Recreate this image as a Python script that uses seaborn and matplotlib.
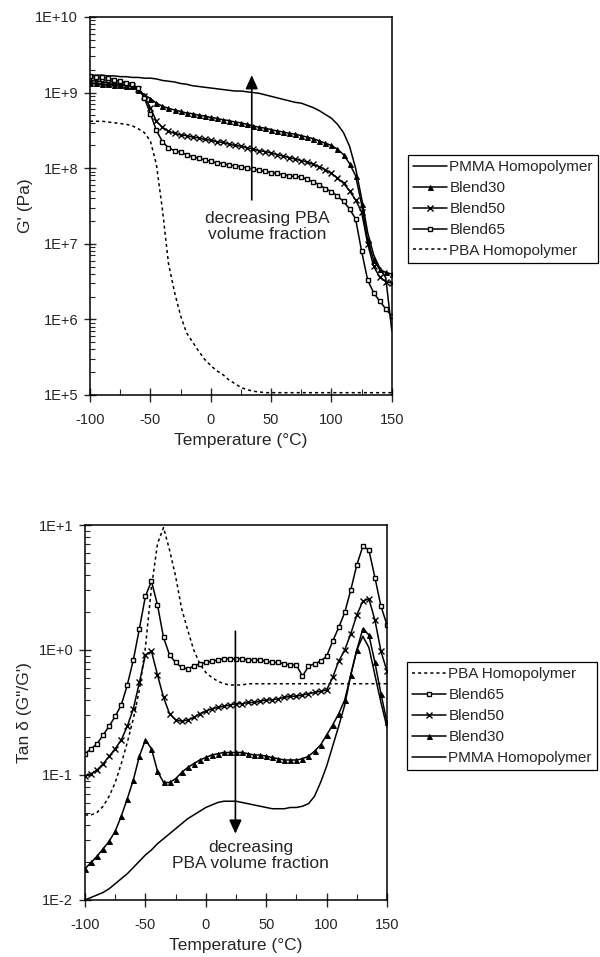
import numpy as np
import pandas as pd
import seaborn as sns
import matplotlib.pyplot as plt
from matplotlib.ticker import LogLocator, NullFormatter, MultipleLocator

sns.set_style("ticks")
plt.rcParams['font.family'] = ['Liberation Sans', 'DejaVu Sans']
plt.rcParams['axes.unicode_minus'] = False

# temperature grid (deg C), read every 5 degrees
temps = list(range(-100, 155, 5))

# storage modulus G' (log10 Pa)
pmma_g = [9.23, 9.23, 9.23, 9.22, 9.22, 9.21, 9.21, 9.20, 9.20, 9.19,
          9.19, 9.18, 9.16, 9.15, 9.14, 9.12, 9.11, 9.09, 9.08, 9.07,
          9.06, 9.05, 9.04, 9.03, 9.02, 9.02, 9.01, 9.00, 8.99, 8.97,
          8.95, 8.93, 8.91, 8.89, 8.87, 8.86, 8.83, 8.80, 8.76, 8.71,
          8.66, 8.58, 8.47, 8.29, 8.00, 7.60, 7.15, 6.85, 6.68, 6.55,
          5.85]
blend30_g = [9.12, 9.12, 9.11, 9.11, 9.10, 9.10, 9.09, 9.08, 9.04, 8.97,
             8.92, 8.86, 8.82, 8.79, 8.77, 8.75, 8.73, 8.72, 8.70, 8.69,
             8.67, 8.66, 8.64, 8.63, 8.61, 8.60, 8.58, 8.56, 8.54, 8.53,
             8.51, 8.49, 8.48, 8.46, 8.45, 8.43, 8.41, 8.39, 8.36, 8.33,
             8.30, 8.25, 8.18, 8.06, 7.90, 7.52, 7.05, 6.78, 6.66, 6.62,
             6.60]
blend50_g = [9.16, 9.15, 9.14, 9.13, 9.12, 9.11, 9.10, 9.09, 9.05, 8.95,
             8.80, 8.62, 8.54, 8.49, 8.46, 8.44, 8.43, 8.41, 8.40, 8.38,
             8.37, 8.35, 8.34, 8.32, 8.30, 8.29, 8.27, 8.25, 8.23, 8.22,
             8.20, 8.18, 8.16, 8.14, 8.12, 8.10, 8.08, 8.05, 8.02, 7.98,
             7.93, 7.87, 7.80, 7.70, 7.58, 7.42, 7.00, 6.70, 6.56, 6.50,
             6.48]
blend65_g = [9.22, 9.21, 9.20, 9.19, 9.17, 9.15, 9.13, 9.11, 9.06, 8.93,
             8.72, 8.50, 8.35, 8.27, 8.23, 8.21, 8.18, 8.15, 8.13, 8.11,
             8.09, 8.07, 8.06, 8.04, 8.03, 8.02, 8.00, 7.99, 7.97, 7.96,
             7.94, 7.93, 7.91, 7.90, 7.89, 7.88, 7.85, 7.82, 7.78, 7.73,
             7.69, 7.63, 7.56, 7.46, 7.33, 6.90, 6.52, 6.35, 6.24, 6.14,
             6.04]
pba_g = [8.62, 8.62, 8.62, 8.61, 8.60, 8.59, 8.58, 8.56, 8.52, 8.47,
         8.36, 8.05, 7.45, 6.74, 6.36, 6.05, 5.82, 5.70, 5.58, 5.47,
         5.39, 5.32, 5.27, 5.20, 5.15, 5.10, 5.07, 5.05, 5.04, 5.03,
         5.03, 5.03, 5.03, 5.03, 5.03, 5.03, 5.03, 5.03, 5.03, 5.03,
         5.03, 5.03, 5.03, 5.03, 5.03, 5.03, 5.03, 5.03, 5.03, 5.03,
         5.03]

# tan delta (log10)
pba_tan = [-1.32, -1.32, -1.30, -1.25, -1.17, -1.06, -0.91, -0.74, -0.55, -0.32,
           0.02, 0.50, 0.85, 0.98, 0.80, 0.59, 0.33, 0.16, 0.00, -0.11,
           -0.18, -0.22, -0.25, -0.27, -0.28, -0.28, -0.28, -0.27, -0.27, -0.27,
           -0.27, -0.27, -0.27, -0.27, -0.27, -0.27, -0.27, -0.27, -0.27, -0.27,
           -0.27, -0.27, -0.27, -0.27, -0.27, -0.27, -0.27, -0.27, -0.27, -0.27,
           -0.27]
blend65_tan = [-0.83, -0.79, -0.75, -0.68, -0.61, -0.53, -0.44, -0.28, -0.08, 0.17,
               0.43, 0.55, 0.36, 0.10, -0.04, -0.10, -0.14, -0.15, -0.13, -0.11,
               -0.10, -0.09, -0.08, -0.07, -0.07, -0.07, -0.07, -0.08, -0.08, -0.08,
               -0.09, -0.10, -0.10, -0.11, -0.12, -0.12, -0.21, -0.13, -0.11, -0.09,
               -0.05, 0.07, 0.18, 0.30, 0.48, 0.68, 0.83, 0.80, 0.58, 0.35,
               0.20]
blend50_tan = [-1.01, -0.99, -0.96, -0.91, -0.85, -0.79, -0.72, -0.61, -0.47, -0.26,
               -0.04, -0.01, -0.20, -0.38, -0.51, -0.56, -0.57, -0.56, -0.54, -0.51,
               -0.49, -0.47, -0.46, -0.45, -0.44, -0.43, -0.43, -0.42, -0.42, -0.41,
               -0.40, -0.40, -0.39, -0.38, -0.37, -0.37, -0.36, -0.35, -0.34, -0.33,
               -0.32, -0.22, -0.09, 0.00, 0.13, 0.28, 0.39, 0.41, 0.24, -0.01,
               -0.17]
blend30_tan = [-1.75, -1.70, -1.65, -1.59, -1.53, -1.45, -1.33, -1.19, -1.04, -0.85,
               -0.72, -0.79, -0.97, -1.06, -1.06, -1.03, -0.98, -0.94, -0.91, -0.88,
               -0.86, -0.84, -0.83, -0.82, -0.82, -0.82, -0.82, -0.83, -0.84, -0.84,
               -0.85, -0.86, -0.87, -0.88, -0.88, -0.88, -0.87, -0.85, -0.81, -0.76,
               -0.68, -0.60, -0.51, -0.40, -0.20, 0.00, 0.17, 0.12, -0.10, -0.35,
               -0.58]
pmma_tan = [-2.00, -1.98, -1.96, -1.94, -1.91, -1.87, -1.83, -1.79, -1.74, -1.69,
            -1.64, -1.60, -1.55, -1.51, -1.47, -1.43, -1.39, -1.35, -1.32, -1.29,
            -1.26, -1.24, -1.22, -1.21, -1.21, -1.21, -1.22, -1.23, -1.24, -1.25,
            -1.26, -1.27, -1.27, -1.27, -1.26, -1.26, -1.25, -1.23, -1.17, -1.06,
            -0.93, -0.77, -0.61, -0.44, -0.20, 0.00, 0.11, 0.02, -0.20, -0.42,
            -0.62]

FS = 10.5

styles = {
    "PMMA Homopolymer": dict(color="black", lw=1.1),
    "Blend30": dict(color="black", lw=1.1, marker="^", ms=3.6, mfc="black", mec="black", mew=0.7),
    "Blend50": dict(color="black", lw=1.1, marker="x", ms=3.8, mec="black", mew=1.0),
    "Blend65": dict(color="black", lw=1.1, marker="s", ms=3.4, mfc="white", mec="black", mew=1.0),
    "PBA Homopolymer": dict(color="black", lw=1.1, ls=(0, (2, 2))),
}


def draw(ax, series, order):
    for name in order:
        df = pd.DataFrame({"T": temps, "v": 10 ** np.array(series[name])})
        sns.lineplot(data=df, x="T", y="v", ax=ax, label=name, legend=False, **styles[name])
    ax.set_yscale("log")
    ax.set_xlim(-100, 150)
    ax.set_xticks([-100, -50, 0, 50, 100, 150])
    ax.set_xticklabels(["-100", "-50", "0", "50", "100", "150"], fontsize=FS)
    ax.xaxis.set_minor_locator(MultipleLocator(25))
    ax.yaxis.set_minor_locator(LogLocator(base=10, subs=np.arange(2, 10)))
    ax.yaxis.set_minor_formatter(NullFormatter())
    ax.tick_params(axis="y", which="major", direction="inout", length=9, width=1, pad=4, labelsize=FS)
    ax.tick_params(axis="y", which="minor", direction="in", length=3.5, width=0.8)
    ax.tick_params(axis="x", which="major", direction="inout", length=10, width=1, pad=8)
    ax.tick_params(axis="x", which="minor", direction="in", length=4, width=0.8)
    for s in ax.spines.values():
        s.set_linewidth(1.1)
        s.set_color("black")
    ax.set_xlabel("Temperature (°C)", fontsize=12.5, labelpad=4)


def add_legend(ax, y_px, x_px):
    h, l = ax.get_legend_handles_labels()
    leg = fig.legend(h, l, loc="upper left", bbox_to_anchor=(x_px / 600, 1 - y_px / 957),
                     bbox_transform=fig.transFigure, fontsize=11, frameon=True, fancybox=False,
                     edgecolor="black", framealpha=1, handlelength=2.2, handletextpad=0.15,
                     labelspacing=0.45, borderpad=0.35, borderaxespad=0)
    leg.get_frame().set_linewidth(0.9)


fig = plt.figure(figsize=(6, 9.57), dpi=100)

# top: storage modulus
ax1 = fig.add_axes([0.150, 0.5873, 0.503, 0.395])
top_series = {"PMMA Homopolymer": pmma_g, "Blend30": blend30_g, "Blend50": blend50_g,
              "Blend65": blend65_g, "PBA Homopolymer": pba_g}
top_order = ["PMMA Homopolymer", "Blend30", "Blend50", "Blend65", "PBA Homopolymer"]
draw(ax1, top_series, top_order)
ax1.set_ylim(1e5, 1e10)
ax1.set_yticks([1e5, 1e6, 1e7, 1e8, 1e9, 1e10])
ax1.set_yticklabels(["1E+5", "1E+6", "1E+7", "1E+8", "1E+9", "1E+10"])
ax1.set_ylabel("G' (Pa)", fontsize=12.5, labelpad=2)
ax1.annotate("", xy=(34, 10 ** 9.23), xytext=(34, 10 ** 7.58),
             arrowprops=dict(arrowstyle="-|>,head_width=0.25,head_length=0.55", color="black",
                             lw=1.2, shrinkA=0, shrinkB=0, mutation_scale=15))
ax1.text(47, 10 ** 7.23, "decreasing PBA\nvolume fraction", ha="center", va="center",
         fontsize=12.5, linespacing=1.05)
add_legend(ax1, 155, 408)

# bottom: tan delta
ax2 = fig.add_axes([0.1417, 0.0596, 0.5033, 0.3918])
bot_series = {"PBA Homopolymer": pba_tan, "Blend65": blend65_tan, "Blend50": blend50_tan,
              "Blend30": blend30_tan, "PMMA Homopolymer": pmma_tan}
bot_order = ["PBA Homopolymer", "Blend65", "Blend50", "Blend30", "PMMA Homopolymer"]
draw(ax2, bot_series, bot_order)
ax2.set_ylim(1e-2, 1e1)
ax2.set_yticks([1e-2, 1e-1, 1e0, 1e1])
ax2.set_yticklabels(["1E-2", "1E-1", "1E+0", "1E+1"])
ax2.set_ylabel("Tan δ (G\"/G')", fontsize=12.5, labelpad=5)
ax2.annotate("", xy=(24.5, 10 ** -1.47), xytext=(24.5, 10 ** 0.15),
             arrowprops=dict(arrowstyle="-|>,head_width=0.25,head_length=0.55", color="black",
                             lw=1.2, shrinkA=0, shrinkB=0, mutation_scale=15))
ax2.text(37, 10 ** -1.645, "decreasing\nPBA volume fraction", ha="center", va="center",
         fontsize=12.5, linespacing=1.05)
add_legend(ax2, 662, 407)

plt.savefig("out.png", dpi=100)
